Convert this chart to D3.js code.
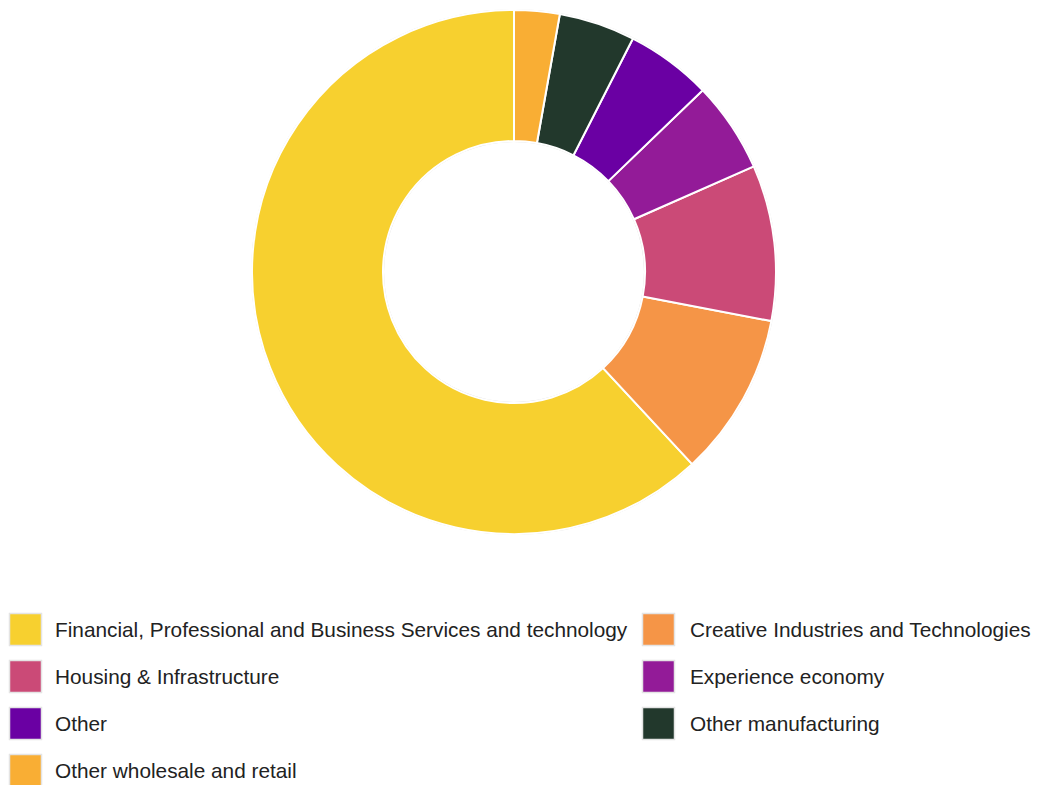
<!DOCTYPE html>
<html>
<head>
<meta charset="utf-8">
<script src="https://cdn.jsdelivr.net/npm/d3@7"></script>
<style>
  html, body { margin: 0; padding: 0; background: #fff; }
  svg { display: block; font-family: "Liberation Sans", Arial, sans-serif; }
</style>
</head>
<body>
<svg id="chart" width="1037" height="785"></svg>
<script>
// Sector shares (percent)
const categories = [
  "Financial, Professional and Business Services and technology",
  "Creative Industries and Technologies",
  "Housing & Infrastructure",
  "Experience economy",
  "Other",
  "Other manufacturing",
  "Other wholesale and retail"
];
const values = [61.9, 10.1, 9.6, 5.6, 5.3, 4.7, 2.8];
const colors = ["#F7D02F", "#F59547", "#CB4A77", "#931B98", "#6A00A3", "#22382C", "#F9AE34"];

const data = categories.map((c, i) => ({ name: c, value: values[i] }));

const svg = d3.select("#chart");
const cx = 514, cy = 272, outerR = 262, innerR = 131;

const color = d3.scaleOrdinal().domain(categories).range(colors);

// Slices run counter-clockwise from 12 o'clock
const pie = d3.pie().sort(null).value(d => d.value).startAngle(0).endAngle(-2 * Math.PI);
const arc = d3.arc().innerRadius(innerR).outerRadius(outerR);

const g = svg.append("g").attr("transform", `translate(${cx},${cy})`);

// faint outline around the ring
g.append("circle").attr("r", outerR + 0.5).attr("fill", "none").attr("stroke", "#ddd").attr("stroke-width", 1);
g.append("circle").attr("r", innerR - 0.5).attr("fill", "none").attr("stroke", "#ddd").attr("stroke-width", 1);

g.selectAll("path.slice")
  .data(pie(data))
  .join("path")
  .attr("class", "slice")
  .attr("d", arc)
  .attr("fill", d => color(d.data.name))
  .attr("stroke", "#fff")
  .attr("stroke-width", 2)
  .attr("stroke-linejoin", "round");

// Legend: two columns, filled row by row
const legendX = [9, 642], legendY0 = 613, rowH = 47, sw = 32;
const legend = svg.append("g").selectAll("g")
  .data(data)
  .join("g")
  .attr("transform", (d, i) => `translate(${legendX[i % 2]},${legendY0 + Math.floor(i / 2) * rowH})`);

legend.append("rect")
  .attr("x", 0.5).attr("y", 0.5)
  .attr("width", sw).attr("height", sw)
  .attr("fill", d => color(d.name))
  .attr("stroke", "#e4e4e4")
  .attr("stroke-width", 1.5);

legend.append("text")
  .attr("x", (d, i) => i % 2 ? 48 : 46)
  .attr("y", sw / 2 + 1)
  .attr("dy", "0.35em")
  .attr("font-size", 20.8)
  .attr("fill", "#222")
  .text(d => d.name);
</script>
</body>
</html>
